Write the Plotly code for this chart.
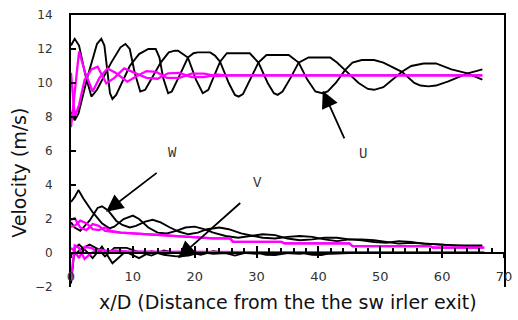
import plotly.graph_objects as go

# ---- data ----
u_a_x = [0, 0.6, 1.2, 2.7, 4.2, 4.9, 5.4, 5.8, 6.3, 6.7, 7.3, 9.5, 11, 12.5, 13.7, 14.3, 14.9, 15.7, 16.3, 17.5, 18.9, 19.8, 20.5, 22.5, 23.3, 24.1, 25.5, 26.5, 27.1, 27.8, 28.8, 30.3, 31.6, 35.2, 36.8, 38.2, 39.5, 40.6, 41.5, 42.8, 44.3, 45.5, 47, 49, 50.5, 53.5, 55.5, 56.5, 57.8, 59, 61, 64.1, 65.5, 66.5]
u_a_y = [8.3, 7.8, 8.2, 10.4, 12.3, 12.6, 12.2, 10.8, 9.4, 9.06, 9.3, 11.0, 11.7, 12.0, 12.0, 11.5, 10.3, 9.4, 9.5, 10.4, 11.5, 11.75, 11.8, 11.8, 11.6, 11.25, 10.0, 9.3, 9.2, 9.35, 10.1, 11.2, 11.65, 11.65, 11.2, 10.2, 9.5, 9.4, 9.5, 10.0, 10.76, 11.2, 11.35, 11.35, 11.2, 10.66, 10.0, 9.85, 9.8, 9.85, 10.1, 10.57, 10.7, 10.8]
u_b_x = [0, 0.6, 1.3, 2.3, 3.3, 4.2, 6.5, 8.0, 8.8, 9.5, 10.3, 11.2, 12.0, 14.5, 15.8, 16.8, 17.3, 18.9, 20.2, 21.3, 22.2, 24.1, 25.2, 28.9, 30.3, 31.8, 32.8, 33.4, 34.2, 35.5, 36.8, 38.4, 41.9, 43.0, 44.3, 46.5, 48, 49, 50.5, 53.5, 55, 57, 59, 61.5, 64.1, 66.5]
u_b_y = [12.2, 12.6, 12.2, 10.5, 9.2, 9.6, 11.2, 12.1, 12.3, 12.0, 10.6, 9.5, 9.6, 11.2, 11.8, 11.9, 11.9, 11.5, 10.2, 9.4, 9.6, 11.25, 11.75, 11.75, 11.2, 10.0, 9.4, 9.3, 9.5, 10.3, 11.2, 11.5, 11.5, 11.2, 10.76, 10.0, 9.65, 9.6, 9.75, 10.66, 11.0, 11.15, 11.15, 10.8, 10.57, 10.2]

um_a_x = [0, 0.6, 1.3, 2.3, 3.5, 4.6, 5.9, 7.2, 9.1, 10.6, 12.2, 13.8, 15.5, 17.5, 19.5, 21.5, 23.5, 25, 28, 40, 55, 66.5]
um_a_y = [7.4, 9.6, 11.85, 10.6, 9.5, 10.3, 10.86, 10.6, 10.08, 10.4, 10.7, 10.65, 10.3, 10.3, 10.55, 10.55, 10.4, 10.45, 10.45, 10.45, 10.45, 10.45]
um_b_x = [0, 0.6, 1.3, 2.2, 3.3, 4.3, 5.7, 7.0, 8.6, 10.3, 12.2, 14.0, 15.7, 17.5, 19.5, 21.5, 23.5, 25, 28, 40, 55, 66.5]
um_b_y = [10.6, 8.0, 8.7, 10.2, 10.8, 10.96, 9.98, 10.3, 10.86, 10.6, 10.3, 10.25, 10.57, 10.6, 10.35, 10.35, 10.5, 10.45, 10.45, 10.45, 10.45, 10.45]

w_a_x = [0, 0.6, 1.2, 2, 3.5, 5, 6.2, 7, 8.5, 10, 11, 12.5, 14, 15.5, 17, 18.5, 20, 21.5, 23, 25, 27, 29, 31, 33, 35, 37, 39, 41, 43, 45, 47, 49, 51, 53, 55, 57, 59, 62, 65, 66.5]
w_a_y = [3.0, 3.3, 3.7, 3.2, 2.4, 1.75, 1.45, 1.55, 2.0, 2.2, 2.0, 1.5, 1.2, 1.15, 1.3, 1.5, 1.55, 1.4, 1.2, 1.0, 0.9, 1.0, 1.1, 1.05, 0.85, 0.75, 0.8, 0.9, 0.9, 0.8, 0.8, 0.75, 0.65, 0.55, 0.6, 0.55, 0.5, 0.45, 0.45, 0.45]
w_b_x = [0, 0.6, 1.5, 3, 4.3, 5, 6, 7.3, 8.3, 9.5, 10.5, 12, 13.2, 14.5, 16, 17.5, 19, 20.5, 22, 24, 25.5, 27.5, 29.5, 31, 33, 35, 37, 39, 41, 43, 45, 47, 49, 51, 53, 55, 57, 60, 63, 66.5]
w_b_y = [1.8, 1.5, 1.3, 1.9, 2.65, 2.75, 2.5, 1.9, 1.65, 1.5, 1.6, 1.85, 1.95, 1.8, 1.5, 1.25, 1.1, 1.2, 1.4, 1.5, 1.4, 1.15, 1.0, 0.9, 0.85, 0.95, 1.0, 0.95, 0.8, 0.7, 0.8, 0.75, 0.65, 0.6, 0.7, 0.65, 0.55, 0.5, 0.45, 0.35]

wm_a_x = [0, 0.6, 1.5, 2.5, 3.5, 4.5, 5.5, 6.5, 8, 10, 14, 19, 23, 25.7, 26.2, 34, 34.5, 45, 45.5, 58, 58.5, 66.8]
wm_a_y = [1.95, 2.05, 1.5, 1.35, 1.7, 1.6, 1.3, 1.25, 1.2, 1.15, 1.06, 0.95, 0.86, 0.86, 0.66, 0.66, 0.57, 0.57, 0.41, 0.41, 0.32, 0.32]
wm_b_x = [0, 0.6, 1.5, 2.5, 3.5, 4.5, 5.5, 6.5, 8, 10, 14, 19, 23, 25.7, 26.2, 34, 34.5, 45, 45.5, 58, 58.5, 66.8]
wm_b_y = [1.55, 1.6, 1.9, 1.75, 1.4, 1.35, 1.5, 1.3, 1.2, 1.15, 1.06, 0.95, 0.86, 0.86, 0.66, 0.66, 0.57, 0.57, 0.41, 0.41, 0.32, 0.32]

v_a_x = [0, 0.6, 1.3, 2.5, 3.5, 5, 6.7, 8.8, 11, 13, 15, 17, 19, 21, 23, 25, 26.5, 28, 30, 31.5, 33, 35, 37, 39, 40.5, 42, 45, 50, 55, 60, 66.5]
v_a_y = [-1.8, 0.3, 0.5, 0.1, -0.3, 0.37, -0.6, 0.08, -0.3, 0.1, -0.1, -0.2, -0.15, 0.05, -0.05, 0.0, -0.15, 0.0, 0.02, -0.1, -0.12, 0.0, 0.02, -0.1, -0.12, 0.0, 0.0, 0.0, 0.0, 0.0, 0.0]
v_b_x = [0, 0.6, 1.5, 3, 4.5, 5.5, 7, 9, 11, 13, 15, 17, 19, 21, 23, 25, 26.5, 28, 30, 31.5, 33, 35, 37, 39, 40.5, 42, 45, 50, 55, 60, 66.5]
v_b_y = [0.0, -0.1, 0.2, 0.5, 0.2, -0.2, 0.3, 0.3, 0.05, -0.15, 0.15, 0.0, 0.05, -0.1, 0.1, 0.0, 0.05, 0.0, -0.05, 0.05, 0.02, -0.05, -0.05, 0.05, 0.02, -0.05, 0.0, 0.0, 0.0, 0.0, 0.0]

vm_a_x = [0, 0.6, 1.3, 2.2, 3.3, 4.5, 5.5, 7, 9, 15, 30, 45, 66.8]
vm_a_y = [-1.6, 0.45, 0.3, -0.35, 0.0, 0.2, 0.15, 0.1, 0.08, 0.06, 0.05, 0.03, 0.03]
vm_b_x = [0, 0.6, 1.3, 2.2, 3.3, 4.5, 5.5, 7, 9, 15, 30, 45, 66.8]
vm_b_y = [0.3, 0.1, -0.3, 0.35, 0.3, 0.0, 0.05, 0.15, 0.1, 0.06, 0.05, 0.03, 0.03]

x_ticks = [0, 10, 20, 30, 40, 50, 60, 70]
y_ticks = [-2, 0, 2, 4, 6, 8, 10, 12, 14]

labels = ["U", "W", "V"]
label_pos = [(47.2, 5.85), (16.4, 5.86), (30.2, 4.14)]
arrow_tail = [(44.3, 6.65), (14.1, 4.78), (27.6, 3.02)]
arrow_head = [(40.7, 9.55), (5.67, 2.43), (17.3, -0.31)]

BLACK = "#000000"
MAG = "#FF00FF"

fig = go.Figure()
series = [
    (u_a_x, u_a_y, BLACK), (u_b_x, u_b_y, BLACK),
    (w_a_x, w_a_y, BLACK), (w_b_x, w_b_y, BLACK),
    (v_a_x, v_a_y, BLACK), (v_b_x, v_b_y, BLACK),
    (um_a_x, um_a_y, MAG), (um_b_x, um_b_y, MAG),
    (wm_a_x, wm_a_y, MAG), (wm_b_x, wm_b_y, MAG),
    (vm_a_x, vm_a_y, MAG), (vm_b_x, vm_b_y, MAG),
]
for xs, ys, c in series:
    fig.add_trace(go.Scatter(x=xs, y=ys, mode="lines",
                             line=dict(color=c, width=2.3 if c == MAG else 1.9),
                             showlegend=False, hoverinfo="skip"))

# empty traces so that the decorative overlay axes are drawn
for ax in ["x2", "x3", "x4"]:
    fig.add_trace(go.Scatter(x=[], y=[], xaxis=ax, yaxis="y", mode="lines",
                             showlegend=False, hoverinfo="skip"))

for t, (lx, ly) in zip(labels, label_pos):
    fig.add_annotation(x=lx, y=ly, text=t, showarrow=False,
                       font=dict(family="Liberation Mono", size=14, color="#333"))
for (tx, ty), (hx, hy) in zip(arrow_tail, arrow_head):
    fig.add_annotation(x=hx, y=hy, ax=tx, ay=ty, xref="x", yref="y", axref="x", ayref="y",
                       text="", showarrow=True, arrowhead=2, arrowsize=1.9,
                       arrowwidth=1.8, arrowcolor="#000")

FONT = "DejaVu Sans"
# axis titles placed as text labels
fig.add_annotation(xref="paper", yref="paper", x=-0.12, y=0.42, text="Velocity (m/s)",
                   textangle=-90, showarrow=False, xanchor="center", yanchor="middle",
                   font=dict(family=FONT, size=19, color="#111"))
fig.add_annotation(xref="paper", yref="paper", x=0.5, y=-0.055,
                   text="x/D (Distance from the the sw irler exit)",
                   showarrow=False, xanchor="center", yanchor="middle",
                   font=dict(family=FONT, size=19, color="#111"))

fig.update_layout(
    width=518, height=320,
    margin=dict(l=71, r=6, t=15, b=33),
    paper_bgcolor="white", plot_bgcolor="white",
    xaxis=dict(range=[0, 70], tickvals=x_ticks, showgrid=False, zeroline=False,
               showline=False, ticks="", ticklabelposition="inside",
               ticklabeloverflow="allow", tickfont=dict(family=FONT, size=13, color="#333")),
    yaxis=dict(range=[-2, 14], tickvals=y_ticks, showgrid=False, zeroline=False,
               showline=True, linewidth=2, linecolor="#000", mirror=True,
               ticks="inside", ticklen=5, tickwidth=1.5, tickcolor="#000",
               ticklabelstandoff=14, tickfont=dict(family=FONT, size=12, color="#333")),
    xaxis2=dict(overlaying="x", anchor="free", position=0.125, range=[0, 70],
                showline=True, linewidth=2, linecolor="#000", showgrid=False, zeroline=False,
                tickvals=x_ticks, ticks="inside", ticklen=6, tickwidth=1.5, tickcolor="#000",
                showticklabels=False,
                minor=dict(ticks="inside", ticklen=4, dtick=2, tick0=0, tickwidth=1.5, tickcolor="#000")),
    xaxis3=dict(overlaying="x", anchor="free", position=0.125, range=[0, 70],
                showline=False, showgrid=False, zeroline=False,
                tickvals=x_ticks, ticks="outside", ticklen=4, tickwidth=1.5, tickcolor="#000",
                showticklabels=False),
    xaxis4=dict(overlaying="x", side="top", anchor="y", range=[0, 70],
                showline=True, linewidth=2, linecolor="#000", showgrid=False, zeroline=False,
                ticks="", showticklabels=False),
)
fig.write_html("out.html")
